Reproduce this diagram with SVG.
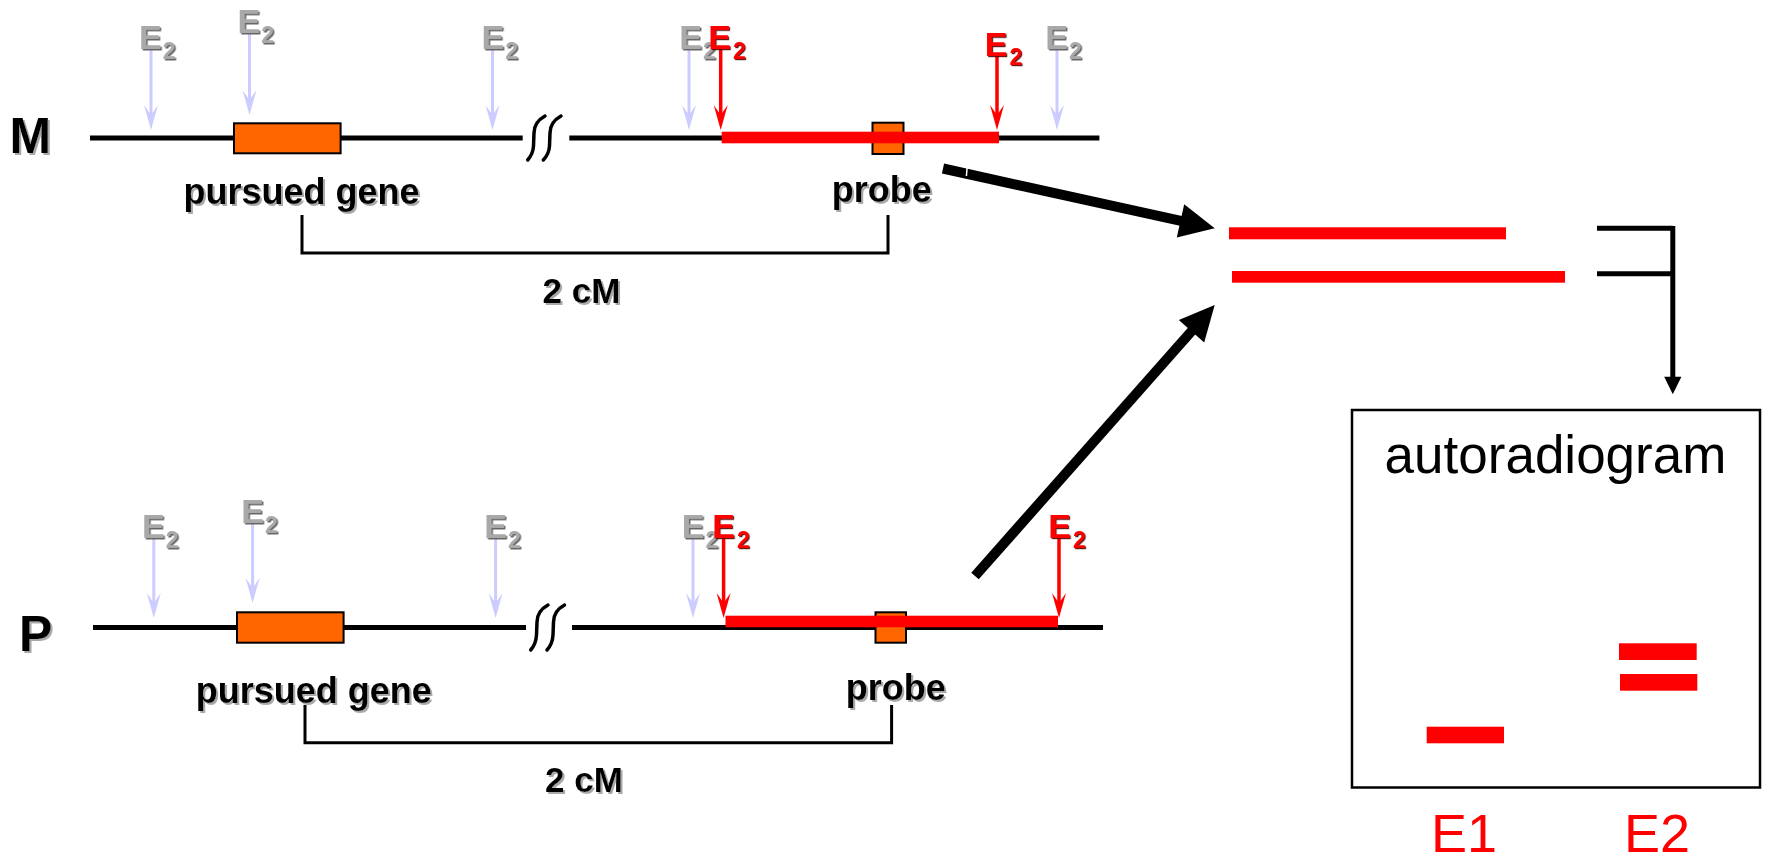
<svg xmlns="http://www.w3.org/2000/svg" width="1765" height="855" viewBox="0 0 1765 855">
<style>
text{font-family:"Liberation Sans",Arial,Helvetica,sans-serif}
.lbl{font-weight:bold;font-size:36px;fill:#000;filter:url(#shB)}
.big{font-weight:bold;font-size:50px;fill:#000;filter:url(#shB)}
.eg{font-weight:bold;font-size:34px;fill:#A9A9A9;filter:url(#shG)}
.er{font-weight:bold;font-size:34px;fill:#FF0000;filter:url(#shR)}
.sub{font-size:23px}
.chrom{stroke:#000;stroke-width:5;fill:none}
.brk{stroke:#000;stroke-width:3.5;fill:none;stroke-linecap:round}
.gene{fill:#FF6600;stroke:#000;stroke-width:2}
.ga{stroke:#CCCCFF;stroke-width:3;marker-end:url(#mG)}
.ra{stroke:#FF0000;stroke-width:3.5;marker-end:url(#mR)}
.frag{fill:#FF0000}
.brack{stroke:#000;stroke-width:3;fill:none}
.thick{stroke:#000;stroke-width:10;fill:none}
.conn{stroke:#000;stroke-width:5;fill:none}
.band{fill:#FF0000}
.lane{font-size:54px;fill:#FF0000;text-anchor:middle}
</style>
<defs>
<filter id="shB" x="-10%" y="-20%" width="130%" height="150%"><feDropShadow dx="2" dy="2" stdDeviation="0.6" flood-color="#9a9a9a" flood-opacity="0.85"/></filter>
<filter id="shG" x="-10%" y="-20%" width="130%" height="150%"><feDropShadow dx="1.5" dy="1.5" stdDeviation="0.3" flood-color="#555" flood-opacity="0.9"/></filter>
<filter id="shR" x="-10%" y="-20%" width="130%" height="150%"><feDropShadow dx="1.2" dy="1.2" stdDeviation="0.3" flood-color="#500" flood-opacity="0.9"/></filter>
<marker id="mG" viewBox="0 0 25 14" refX="13" refY="7" markerWidth="25" markerHeight="14" markerUnits="userSpaceOnUse" orient="auto"><path d="M0,0 L25,7 L0,14 L10,7 Z" fill="#CCCCFF"/></marker>
<marker id="mR" viewBox="0 0 25 14" refX="13" refY="7" markerWidth="25" markerHeight="14" markerUnits="userSpaceOnUse" orient="auto"><path d="M0,0 L25,7 L0,14 L10,7 Z" fill="#FF0000"/></marker>
</defs>
<rect width="1765" height="855" fill="#fff"/>

<g id="chrom-M">
<text class="big" x="9.5" y="153">M</text>
<line class="chrom" x1="90" y1="138" x2="522.7" y2="138"/>
<line class="chrom" x1="569.3" y1="138" x2="1099.4" y2="138"/>
<path class="brk" d="M545,116 Q534,122 534,133 L533.5,146 Q533,154 527.7,160"/>
<path class="brk" d="M561,116 Q550,122 550,133 L549.5,146 Q549,154 543.3,160"/>
<rect class="gene" x="234" y="123.3" width="106.6" height="30"/>
<rect class="gene" x="872.5" y="122.7" width="31" height="31.3"/>
<rect class="frag" x="721.7" y="131.7" width="277.3" height="11.6"/>
<line class="ga" x1="151" y1="50" x2="151" y2="118"/>
<line class="ga" x1="249.5" y1="34" x2="249.5" y2="103"/>
<line class="ga" x1="492.5" y1="50" x2="492.5" y2="118"/>
<line class="ga" x1="689" y1="50" x2="689" y2="118"/>
<line class="ga" x1="1057" y1="50" x2="1057" y2="118"/>
<line class="ra" x1="720.7" y1="48" x2="720.7" y2="118"/>
<line class="ra" x1="997" y1="56" x2="997" y2="118"/>
<text class="eg" x="139" y="48.5">E<tspan class="sub" dx="1" dy="10">2</tspan></text>
<text class="eg" x="237.5" y="33">E<tspan class="sub" dx="1" dy="10">2</tspan></text>
<text class="eg" x="481.5" y="48.5">E<tspan class="sub" dx="1" dy="10">2</tspan></text>
<text class="eg" x="679.2" y="48.5">E<tspan class="sub" dx="1" dy="10">2</tspan></text>
<text class="eg" x="1045.2" y="48.5">E<tspan class="sub" dx="1" dy="10">2</tspan></text>
<text class="er" x="708.2" y="48.5">E<tspan class="sub" dx="2" dy="10">2</tspan></text>
<text class="er" x="984.8" y="56">E<tspan class="sub" dx="2" dy="9">2</tspan></text>
<path class="brack" d="M302,215 V253 H888 V215"/>
<text class="lbl" x="301.5" y="204" text-anchor="middle">pursued gene</text>
<text class="lbl" x="881.8" y="202" text-anchor="middle">probe</text>
<text class="lbl" x="581.5" y="303" text-anchor="middle" style="font-size:35px">2 cM</text>
</g>

<g id="chrom-P">
<text class="big" x="19" y="651">P</text>
<line class="chrom" x1="93" y1="627.5" x2="526" y2="627.5"/>
<line class="chrom" x1="572" y1="627.5" x2="1103" y2="627.5"/>
<path class="brk" d="M548,605 Q537,611 537,622 L536.5,635 Q536,644 530.7,650"/>
<path class="brk" d="M564.5,605 Q553.5,611 553.5,622 L553,635 Q552.5,644 547,650"/>
<rect class="gene" x="237" y="612.3" width="106.6" height="30.4"/>
<rect class="gene" x="875.5" y="612.3" width="30.5" height="30.4"/>
<rect class="frag" x="725.5" y="615.7" width="332.5" height="11.6"/>
<line class="ga" x1="153.8" y1="539" x2="153.8" y2="606"/>
<line class="ga" x1="252.6" y1="524" x2="252.6" y2="591"/>
<line class="ga" x1="495.6" y1="539" x2="495.6" y2="606"/>
<line class="ga" x1="693" y1="539" x2="693" y2="606"/>
<line class="ra" x1="723.6" y1="537" x2="723.6" y2="606"/>
<line class="ra" x1="1059" y1="537" x2="1059" y2="606"/>
<text class="eg" x="142" y="537.5">E<tspan class="sub" dx="1" dy="10">2</tspan></text>
<text class="eg" x="241.3" y="522.5">E<tspan class="sub" dx="1" dy="10">2</tspan></text>
<text class="eg" x="484.3" y="537.5">E<tspan class="sub" dx="1" dy="10">2</tspan></text>
<text class="eg" x="681.7" y="537.5">E<tspan class="sub" dx="1" dy="10">2</tspan></text>
<text class="er" x="712.3" y="537.5">E<tspan class="sub" dx="2" dy="10">2</tspan></text>
<text class="er" x="1048.3" y="537.5">E<tspan class="sub" dx="2" dy="10">2</tspan></text>
<path class="brack" d="M305,705 V742.7 H891.6 V705"/>
<text class="lbl" x="313.7" y="703" text-anchor="middle">pursued gene</text>
<text class="lbl" x="895.7" y="700" text-anchor="middle">probe</text>
<text class="lbl" x="584" y="791.7" text-anchor="middle" style="font-size:35px">2 cM</text>
</g>

<g id="fragments">
<rect class="band" x="1229" y="227.3" width="277" height="12"/>
<rect class="band" x="1232" y="271" width="333" height="11.7"/>
</g>

<g id="autoradiogram">
<rect x="1352" y="410" width="408" height="377.5" fill="none" stroke="#000" stroke-width="2.5"/>
<text x="1555.5" y="472.7" text-anchor="middle" style="font-size:53px;fill:#000">autoradiogram</text>
<rect class="band" x="1426.7" y="726.7" width="77.3" height="16.6"/>
<rect class="band" x="1619" y="643.3" width="77.7" height="16.7"/>
<rect class="band" x="1620" y="674" width="77.3" height="16.7"/>
<text class="lane" x="1464" y="852">E1</text>
<text class="lane" x="1657" y="852">E2</text>
</g>

<g id="connectors">
<line class="thick" x1="943" y1="168.5" x2="1185.4" y2="221.9"/>
<line x1="967.6" y1="162" x2="966.4" y2="176" stroke="#fff" stroke-width="1.5"/>
<polygon points="1214.7,228.3 1176.8,237.4 1184.2,204.2" fill="#000"/>
<line class="thick" x1="975" y1="576" x2="1194.8" y2="327.5"/>
<polygon points="1214.7,305 1204.2,342.5 1178.8,319.9" fill="#000"/>
<path class="conn" d="M1597,228.3 H1672.8 M1597,273.7 H1672.8 M1672.8,226 V380"/>
<polygon points="1664.2,376.7 1681.4,376.7 1672.8,394.3" fill="#000"/>
</g>
</svg>
